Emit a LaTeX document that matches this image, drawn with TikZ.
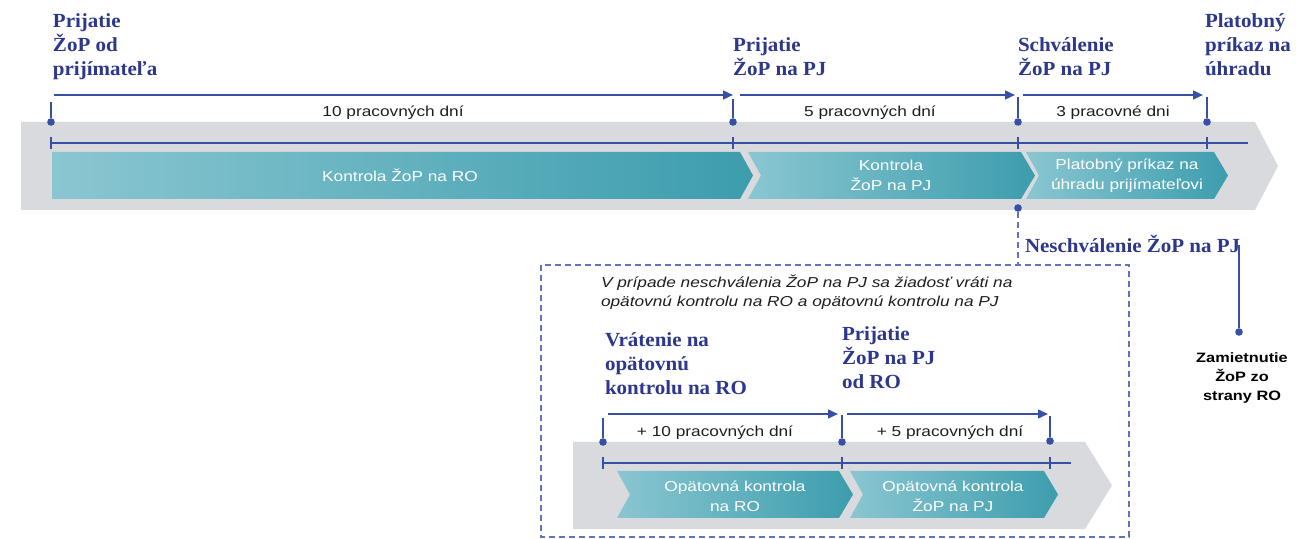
\documentclass[tikz,border=0pt]{standalone}
\usepackage{fontspec}
\setmainfont{Liberation Serif}
\newfontfamily\headfont[FakeStretch=1.05]{Liberation Serif}
\newfontfamily\labfont[FakeStretch=1.2]{Liberation Sans}
\usetikzlibrary{arrows.meta}
\definecolor{navy}{RGB}{45,55,140}
\definecolor{lineblue}{RGB}{55,80,165}
\definecolor{dashblue}{RGB}{95,115,190}
\definecolor{bandgray}{RGB}{217,218,221}
\definecolor{tealL}{RGB}{138,198,209}
\definecolor{tealR}{RGB}{60,157,173}
\definecolor{textblack}{RGB}{30,30,30}
\tikzset{
  every node/.style={inner sep=0pt, outer sep=0pt},
  headtext/.style={font=\headfont\bfseries\fontsize{10}{11.8}\selectfont, text=navy, anchor=base west},
  headlow/.style={headtext, font=\headfont\bfseries\fontsize{10}{12}\selectfont},
  daytext/.style={font=\labfont\fontsize{7.2}{9}\selectfont, text=textblack, anchor=base},
  chevtext/.style={font=\labfont\fontsize{7.2}{10}\selectfont, text=white, align=center},
  notetext/.style={font=\labfont\itshape\fontsize{7.2}{9.5}\selectfont, text=textblack, anchor=base west},
  rejecttext/.style={font=\labfont\bfseries\fontsize{6.8}{9.5}\selectfont, text=black, align=center},
  band/.style={fill=bandgray},
  chev/.style={left color=tealL, right color=tealR},
  conn/.style={draw=lineblue, line width=1pt},
  arr/.style={conn, -{Triangle[length=5pt,width=4.4pt]}},
  dotmark/.style={circle, fill=lineblue, minimum size=3.8pt},
  dashbox/.style={draw=dashblue, line width=0.8pt, dash pattern=on 3pt off 2pt},
}
\begin{document}
\begin{tikzpicture}[x=0.5pt,y=-0.5pt]
\useasboundingbox (0,0) rectangle (1296,539);

% ---------- upper timeline ----------
\path[band] (21,122) -- (1255,122) -- (1278,166) -- (1255,210) -- (21,210) -- cycle;
\path[chev] (52,152) -- (740,152) -- (753,175.5) -- (740,199) -- (52,199) -- cycle;
\path[chev] (748,152) -- (1021,152) -- (1035,175.5) -- (1021,199) -- (748,199) -- (761,175.5) -- cycle;
\path[chev] (1026,152) -- (1214,152) -- (1228,175.5) -- (1214,199) -- (1026,199) -- (1039,175.5) -- cycle;
\node[chevtext] (c1) at (400,175.5) {Kontrola ŽoP na RO};
\node[chevtext] (c2) at (891,175.5) {Kontrola\\ŽoP na PJ};
\node[chevtext] (c3) at (1127,175.5) {Platobný príkaz na\\úhradu prijímateľovi};

\coordinate (L1) at (51,143); \coordinate (L2) at (1248,143);
\draw[conn] (L1) -- (L2);
\draw[conn] (51,137) -- (51,149);
\draw[conn] (733,137) -- (733,149);
\draw[conn] (1018,137) -- (1018,149);
\draw[conn] (1207,137) -- (1207,149);

\node[dotmark] (d1) at (51,122) {};
\node[dotmark] (d2) at (733,122) {};
\node[dotmark] (d3) at (1018,122) {};
\node[dotmark] (d4) at (1207,122) {};
\coordinate (v1) at (51,102);
\coordinate (v2) at (733,99);
\coordinate (v3) at (1018,97);
\coordinate (v4) at (1207,97);
\draw[conn] (v1) -- (d1);
\draw[conn] (v2) -- (d2);
\draw[conn] (v3) -- (d3);
\draw[conn] (v4) -- (d4);

\coordinate (a1s) at (54,95);   \coordinate (a1e) at (733,95);
\coordinate (a2s) at (740,95);  \coordinate (a2e) at (1015,95);
\coordinate (a3s) at (1023,95); \coordinate (a3e) at (1203,95);
\draw[arr] (a1s) -- (a1e);
\draw[arr] (a2s) -- (a2e);
\draw[arr] (a3s) -- (a3e);

\node[daytext] (t1) at (393,117) {10 pracovných dní};
\node[daytext] (t2) at (870,117) {5 pracovných dní};
\node[daytext] (t3) at (1113,117) {3 pracovné dni};

\node[headtext] (h1) at (53,28) {\vtop{\hbox{Prijatie}\hbox{ŽoP od}\hbox{prijímateľa}}};
\node[headtext] (h2) at (733,52) {\vtop{\hbox{Prijatie}\hbox{ŽoP na PJ}}};
\node[headtext] (h3) at (1018,52) {\vtop{\hbox{Schválenie}\hbox{ŽoP na PJ}}};
\node[headtext] (h4) at (1205,28) {\vtop{\hbox{Platobný}\hbox{príkaz na}\hbox{úhradu}}};

% ---------- rejection branch ----------
\node[dotmark] (nd) at (1018,208) {};
\coordinate (boxtop) at (1018,265);
\draw[dashbox] (nd) -- (boxtop);
\draw[dashbox] (541,265) rectangle (1129,537);

\node[headtext] (neg) at (1025,253) {Neschválenie ŽoP na PJ};
\coordinate (rj) at (1239,245);
\node[dotmark] (rd) at (1239,332) {};
\draw[conn] (rj) -- (rd);
\node[rejecttext, anchor=north] (rej) at (1242,353) {Zamietnutie\\ŽoP zo\\strany RO};

\node[notetext] (note) at (601,288) {\vtop{\hbox{V prípade neschválenia ŽoP na PJ sa žiadosť vráti na}\hbox{opätovnú kontrolu na RO a opätovnú kontrolu na PJ}}};

\node[headlow] (h5) at (605,347) {\vtop{\hbox{Vrátenie na}\hbox{opätovnú}\hbox{kontrolu na RO}}};
\node[headlow] (h6) at (842,341) {\vtop{\hbox{Prijatie}\hbox{ŽoP na PJ}\hbox{od RO}}};

% ---------- lower timeline ----------
\path[band] (573,442) -- (1085,442) -- (1112,485.5) -- (1085,529) -- (573,529) -- cycle;
\path[chev] (617,471) -- (839,471) -- (853,494.5) -- (839,518) -- (617,518) -- (630,494.5) -- cycle;
\path[chev] (850,471) -- (1044,471) -- (1058,494.5) -- (1044,518) -- (850,518) -- (863,494.5) -- cycle;
\node[chevtext] (c4) at (735,496) {Opätovná kontrola\\na RO};
\node[chevtext] (c5) at (953,496) {Opätovná kontrola\\ŽoP na PJ};

\coordinate (M1) at (603,463); \coordinate (M2) at (1071,463);
\draw[conn] (M1) -- (M2);
\draw[conn] (603,457) -- (603,469);
\draw[conn] (842,457) -- (842,469);
\draw[conn] (1050,457) -- (1050,469);

\node[dotmark] (e1) at (603,442) {};
\node[dotmark] (e2) at (842,442) {};
\node[dotmark] (e3) at (1050,441) {};
\coordinate (w1) at (603,418);
\coordinate (w2) at (842,415);
\coordinate (w3) at (1050,416);
\draw[conn] (w1) -- (e1);
\draw[conn] (w2) -- (e2);
\draw[conn] (w3) -- (e3);

\coordinate (b1s) at (608,414); \coordinate (b1e) at (838,414);
\coordinate (b2s) at (847,414); \coordinate (b2e) at (1048,414);
\draw[arr] (b1s) -- (b1e);
\draw[arr] (b2s) -- (b2e);

\node[daytext] (t4) at (715,437) {+ 10 pracovných dní};
\node[daytext] (t5) at (950,437) {+ 5 pracovných dní};
\end{tikzpicture}
\end{document}
